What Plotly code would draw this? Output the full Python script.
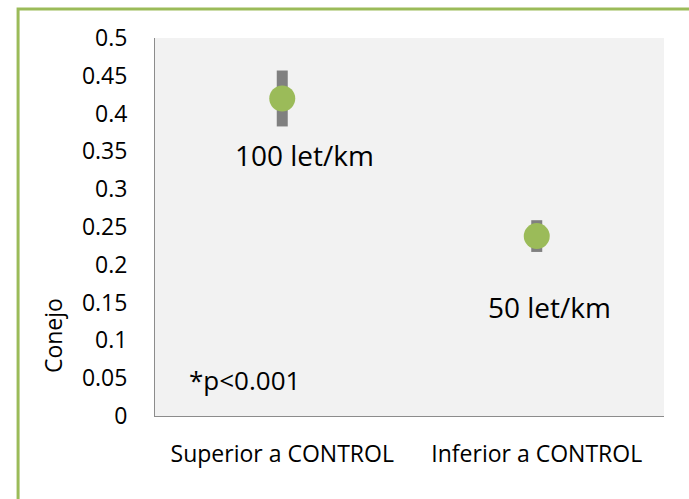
import plotly.graph_objs as go

# categories and values
categorias = ["Superior a CONTROL", "Inferior a CONTROL"]
conejo = [0.42, 0.238]
error = [0.037, 0.021]
etiquetas = ["100 let/km", "50 let/km"]
nota = "*p<0.001"

verde = "#9BBB59"
gris = "#808080"
fuente = "Open Sans, Liberation Sans, sans-serif"

fig = go.Figure()
fig.add_trace(go.Scatter(
    x=categorias, y=conejo, mode="markers",
    marker=dict(size=26, color=verde),
    error_y=dict(type="data", array=error, visible=True,
                 color=gris, thickness=11, width=0),
    showlegend=False, hoverinfo="skip"))

# point labels
fig.add_annotation(x=categorias[0], y=conejo[0], text=etiquetas[0], showarrow=False,
                   xshift=22, yshift=-57, font=dict(size=28, color="#000000"))
fig.add_annotation(x=categorias[1], y=conejo[1], text=etiquetas[1], showarrow=False,
                   xshift=13, yshift=-71, font=dict(size=28, color="#000000"))
fig.add_annotation(xref="paper", yref="y", x=0.175, y=0.0476, text=nota, showarrow=False,
                   xanchor="center", yanchor="middle", font=dict(size=26, color="#000000"))

# y axis title, placed low like the original
fig.add_annotation(xref="paper", yref="paper", x=-0.2, y=0.212, text="Conejo",
                   xanchor="center", yanchor="middle",
                   textangle=-90, showarrow=False, font=dict(size=23, color="#000000"))

# green frame around the chart
fig.add_shape(type="rect", xref="paper", yref="paper",
              x0=-0.269, x1=1.2, y0=-0.5, y1=1.077,
              line=dict(color=verde, width=3), fillcolor="rgba(0,0,0,0)", layer="below")

fig.update_layout(
    width=689, height=499,
    margin=dict(l=155, r=25, t=38, b=83),
    paper_bgcolor="white", plot_bgcolor="#F2F2F2",
    font=dict(family=fuente, size=18, color="#000000"),
    xaxis=dict(range=[-0.5, 1.5], showgrid=False, zeroline=False,
               showline=True, linecolor="#8C8C8C", linewidth=1,
               ticks="", tickfont=dict(size=23), ticklabelstandoff=17),
    yaxis=dict(range=[0, 0.5], dtick=0.05, showgrid=False, zeroline=False,
               showline=True, linecolor="#8C8C8C", linewidth=1,
               ticks="", tickfont=dict(size=23), ticklabelstandoff=22),
)

fig.write_html("out.html", config={"displayModeBar": False},
               post_script="document.body.style.margin='0';")
